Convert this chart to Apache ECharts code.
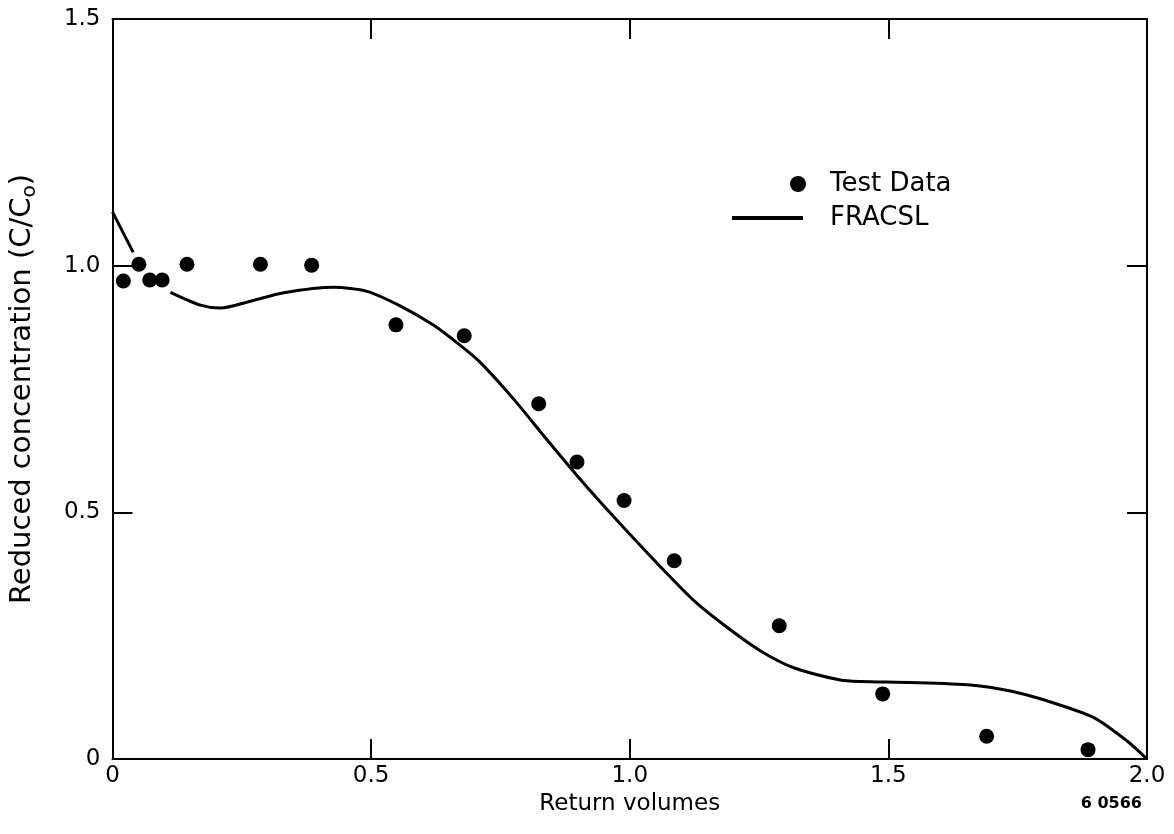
<!DOCTYPE html>
<html lang="en">
<head>
    <meta charset="UTF-8">
    <title>Reduced concentration</title>
    <script src="https://cdn.jsdelivr.net/npm/echarts@6/dist/echarts.min.js"></script>
    <style>
        html, body { margin: 0; padding: 0; background: #ffffff; }
        #chart { width: 1174px; height: 834px; }
    </style>
</head>
<body>
    <div id="chart"></div>
    <script>
        // test data (points)
        var testX = [0.021, 0.051, 0.072, 0.096, 0.144, 0.286, 0.385, 0.548, 0.680, 0.824, 0.898, 0.989, 1.086, 1.289, 1.489, 1.690, 1.886];
        var testY = [0.969, 1.003, 0.971, 0.971, 1.003, 1.003, 1.001, 0.880, 0.858, 0.720, 0.602, 0.524, 0.402, 0.270, 0.132, 0.046, 0.019];
        // FRACSL curve (null = gap where the dots cover it)
        var fracX = [0, 0.040, 0.075, 0.112, 0.170, 0.209, 0.267, 0.331, 0.428, 0.492, 0.557, 0.621, 0.673, 0.711, 0.776, 0.840, 0.905, 0.969, 1.059, 1.124, 1.188, 1.253, 1.317, 1.407, 1.446, 1.543, 1.659, 1.736, 1.800, 1.897, 1.961, 2.0];
        var fracY = [1.109, 1.027, null, 0.946, 0.920, 0.914, 0.928, 0.945, 0.956, 0.948, 0.918, 0.879, 0.838, 0.804, 0.729, 0.647, 0.566, 0.491, 0.390, 0.321, 0.267, 0.219, 0.185, 0.160, 0.157, 0.155, 0.150, 0.138, 0.120, 0.084, 0.037, 0.0];
        var xTicks = [0, 0.5, 1.0, 1.5, 2.0];
        var yTicks = [0, 0.5, 1.0, 1.5];

        var font = '"DejaVu Sans", Verdana, sans-serif';

        function pairs(xs, ys) {
            return xs.map(function (x, i) { return [x, ys[i]]; });
        }
        function tickFmt(v) {
            return v === 0 ? '0' : v.toFixed(1);
        }

        var chart = echarts.init(document.getElementById('chart'));

        // frame: every axis drawn at its own edge, ticks pointing in
        var axisLine = { show: true, onZero: false, lineStyle: { color: '#000', width: 2 } };
        var axisTick = { show: true, inside: true, length: 20, lineStyle: { color: '#000', width: 2 } };

        chart.setOption({
            animation: false,
            backgroundColor: '#ffffff',
            grid: { left: 112, right: 27, top: 19, bottom: 75 },
            legend: [{
                data: [{ name: 'Test Data', icon: 'circle' }],
                left: 785,
                top: 166,
                itemWidth: 16,
                itemHeight: 16,
                textStyle: { fontFamily: font, fontSize: 26, color: '#000', padding: [0, 0, 0, 19] }
            }, {
                data: [{ name: 'FRACSL', icon: 'rect' }],
                left: 727,
                top: 200,
                itemWidth: 71,
                itemHeight: 4,
                textStyle: { fontFamily: font, fontSize: 26, color: '#000', padding: [0, 0, 0, 22] }
            }],
            xAxis: [{
                type: 'value',
                min: 0, max: 2, interval: 0.5,
                position: 'bottom',
                name: 'Return volumes',
                nameLocation: 'middle',
                nameGap: 33,
                nameTextStyle: { fontFamily: font, fontSize: 23, color: '#000' },
                axisLine: axisLine,
                axisTick: axisTick,
                splitLine: { show: false },
                axisLabel: { fontFamily: font, fontSize: 23, color: '#000', margin: 6, formatter: tickFmt }
            }, {
                type: 'value',
                min: 0, max: 2, interval: 0.5,
                position: 'top',
                axisLine: axisLine,
                axisTick: axisTick,
                splitLine: { show: false },
                axisLabel: { show: false }
            }],
            yAxis: [{
                type: 'value',
                min: 0, max: 1.5, interval: 0.5,
                position: 'left',
                name: 'Reduced concentration (C/C{sub|o})',
                nameLocation: 'middle',
                nameGap: 73,
                nameTextStyle: {
                    fontFamily: font, fontSize: 29, color: '#000',
                    rich: { sub: { fontFamily: font, fontSize: 20, color: '#000', padding: [14, 0, 0, 0] } }
                },
                axisLine: axisLine,
                axisTick: axisTick,
                splitLine: { show: false },
                axisLabel: { fontFamily: font, fontSize: 23, color: '#000', margin: 12, formatter: tickFmt }
            }, {
                type: 'value',
                min: 0, max: 1.5, interval: 0.5,
                position: 'right',
                axisLine: axisLine,
                axisTick: axisTick,
                splitLine: { show: false },
                axisLabel: { show: false }
            }],
            series: [{
                name: 'Test Data',
                type: 'scatter',
                data: pairs(testX, testY),
                symbol: 'circle',
                symbolSize: 15,
                itemStyle: { color: '#000', opacity: 1 },
                z: 3
            }, {
                name: 'FRACSL',
                type: 'line',
                data: pairs(fracX, fracY),
                smooth: 0.25,
                connectNulls: false,
                showSymbol: false,
                symbol: 'none',
                lineStyle: { color: '#000', width: 3 },
                itemStyle: { color: '#000' },
                z: 2
            }],
            graphic: [{
                type: 'text',
                right: 32,
                top: 796,
                style: { text: '6 0566', fontFamily: font, fontSize: 16, fontWeight: 'bold', fill: '#000' }
            }]
        });
    </script>
</body>
</html>
